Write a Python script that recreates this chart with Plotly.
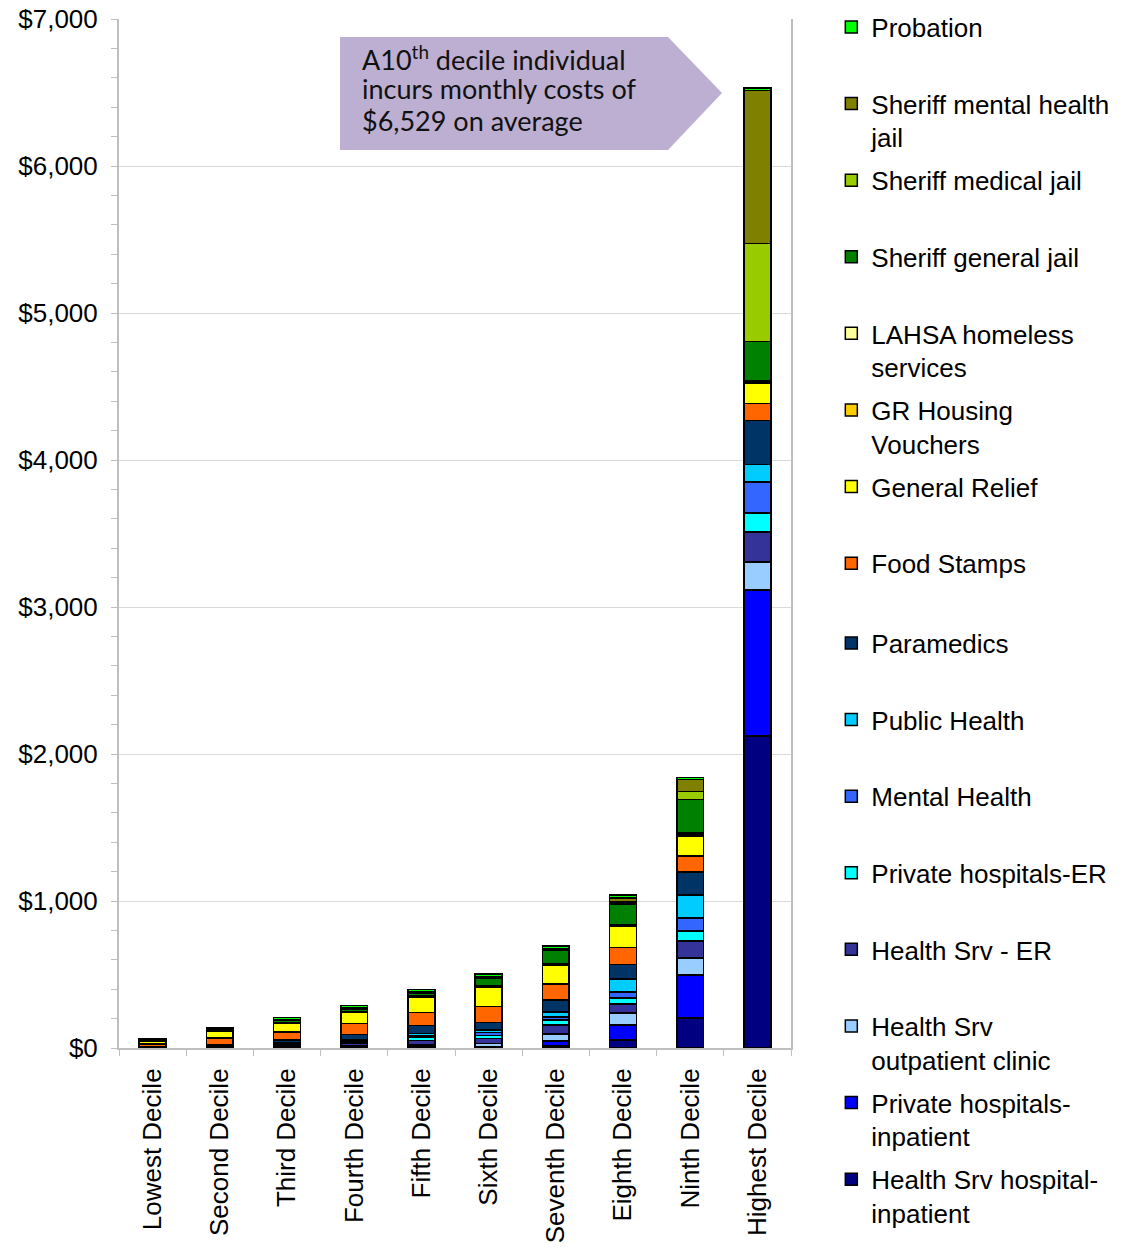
import plotly.graph_objects as go

deciles = ["Lowest Decile", "Second Decile", "Third Decile", "Fourth Decile", "Fifth Decile",
           "Sixth Decile", "Seventh Decile", "Eighth Decile", "Ninth Decile", "Highest Decile"]

# series listed bottom of stack -> top of stack
hs_hospital_inpatient = [0.5, 1, 1, 2, 3, 3, 14, 54, 204, 2122]
private_inpatient     = [0.5, 1, 2, 3, 5, 7, 34, 102, 293, 993]
hs_outpatient         = [1, 2, 5, 8, 14, 20, 48, 82, 116, 190]
hs_er                 = [1, 3, 10, 22, 30, 34, 61, 61, 116, 204]
private_er            = [1, 2, 5, 8, 24, 20, 34, 41, 68, 129]
mental_health         = [1, 3, 5, 6, 10, 20, 20, 41, 88, 211]
public_health         = [1, 3, 5, 10, 14, 20, 34, 88, 156, 122]
paramedics            = [2, 8, 20, 32, 52, 50, 82, 100, 156, 299]
food_stamps           = [20, 45, 55, 75, 90, 110, 109, 116, 109, 116]
general_relief        = [18, 45, 60, 75, 105, 130, 129, 143, 136, 136]
gr_housing            = [2, 3, 3, 4, 4, 5, 5, 7, 14, 10]
lahsa                 = [2, 3, 3, 4, 4, 5, 5, 5, 10, 8]
sheriff_general       = [2, 4, 12, 15, 20, 48, 88, 140, 224, 265]
sheriff_medical       = [1, 2, 3, 3, 3, 5, 5, 14, 54, 667]
sheriff_mental        = [2, 3, 5, 6, 7, 10, 10, 25, 82, 1043]
probation             = [8, 10, 15, 15, 12, 15, 15, 22, 15, 14]

series = [
    ("Health Srv hospital-<br>inpatient", hs_hospital_inpatient, "#000080"),
    ("Private hospitals-<br>inpatient", private_inpatient, "#0000FF"),
    ("Health Srv<br>outpatient clinic", hs_outpatient, "#99CCFF"),
    ("Health Srv - ER", hs_er, "#333399"),
    ("Private hospitals-ER", private_er, "#00FFFF"),
    ("Mental Health", mental_health, "#3366FF"),
    ("Public Health", public_health, "#00CCFF"),
    ("Paramedics", paramedics, "#003366"),
    ("Food Stamps", food_stamps, "#FF6600"),
    ("General Relief", general_relief, "#FFFF00"),
    ("GR Housing<br>Vouchers", gr_housing, "#FFCC00"),
    ("LAHSA homeless<br>services", lahsa, "#FFFF99"),
    ("Sheriff general jail", sheriff_general, "#008000"),
    ("Sheriff medical jail", sheriff_medical, "#99CC00"),
    ("Sheriff mental health<br>jail", sheriff_mental, "#808000"),
    ("Probation", probation, "#00FF00"),
]

FONT = "Liberation Sans, Arial, sans-serif"

fig = go.Figure()
n = len(series)
for i, (name, vals, col) in enumerate(series):
    label = name if "<br>" in name else name + "<br>\u00a0"
    fig.add_trace(go.Bar(
        x=deciles, y=vals, name=label,
        marker=dict(color=col, line=dict(color="black", width=1.5)),
        legendgroup=f"g{i}", legendrank=n - i,
        legend="legend2" if i < 8 else "legend",
    ))

LEG_X = 1.060
LEG_Y = 1.015
leg_common = dict(
    x=LEG_X, xanchor="left", yanchor="top",
    traceorder="grouped", tracegroupgap=6, valign="top",
    font=dict(family=FONT, size=26, color="black"),
    bgcolor="rgba(0,0,0,0)",
)

fig.update_layout(
    barmode="stack",
    bargap=0.6,
    width=1133, height=1253, autosize=False,
    margin=dict(l=119, r=342, t=19, b=205, autoexpand=False),
    paper_bgcolor="white", plot_bgcolor="white",
    font=dict(family=FONT, size=26, color="black"),
    showlegend=True,
    legend=dict(y=LEG_Y, **leg_common),
    legend2=dict(y=LEG_Y - 616 / 1029, **leg_common),
)

fig.update_yaxes(
    range=[0, 7000], dtick=1000, tickprefix="$", tickformat=",.0f",
    showgrid=True, gridcolor="#D9D9D9", gridwidth=1,
    showline=True, linecolor="#BFBFBF", linewidth=2, mirror=True,
    ticks="outside", ticklen=6, tickcolor="#BFBFBF", tickwidth=1,
    minor=dict(dtick=200, ticks="outside", ticklen=6, tickcolor="#BFBFBF", showgrid=False),
    tickfont=dict(family=FONT, size=26, color="black"),
    ticklabelstandoff=8, zeroline=False, ticklabeloverflow="allow",
)
fig.update_xaxes(
    tickangle=-90, tickson="boundaries", ticks="outside", ticklen=6,
    tickcolor="#BFBFBF", showline=True, linecolor="#BFBFBF", linewidth=2,
    tickfont=dict(family=FONT, size=26, color="black"),
    ticklabelstandoff=8, ticklabeloverflow="allow",
)

# call-out arrow box (decorative shape in paper coordinates)
fig.add_shape(
    type="path", xref="paper", yref="paper",
    path="M 0.3289 0.9825 L 0.8170 0.9825 L 0.8973 0.9281 L 0.8170 0.8727 L 0.3289 0.8727 Z",
    fillcolor="#BDAFD2", line=dict(width=0), layer="above",
)
callout_lines = ["A10<sup>th</sup> decile individual", "incurs monthly costs of", "$6,529 on average"]
callout_y = [0.9621, 0.9320, 0.9018]
for txt, yy in zip(callout_lines, callout_y):
    fig.add_annotation(
        text=txt, xref="paper", yref="paper", x=0.3586, y=yy,
        xanchor="left", yanchor="middle", showarrow=False, align="left",
        font=dict(family="Lato, sans-serif", size=27, color="#111111"),
    )

# remove the browser's default 8px body margin so the figure fills the window exactly
fig.write_html(
    "out.html",
    config={"displayModeBar": False},
    post_script="document.body.style.margin='0';document.body.style.overflow='hidden';",
)
